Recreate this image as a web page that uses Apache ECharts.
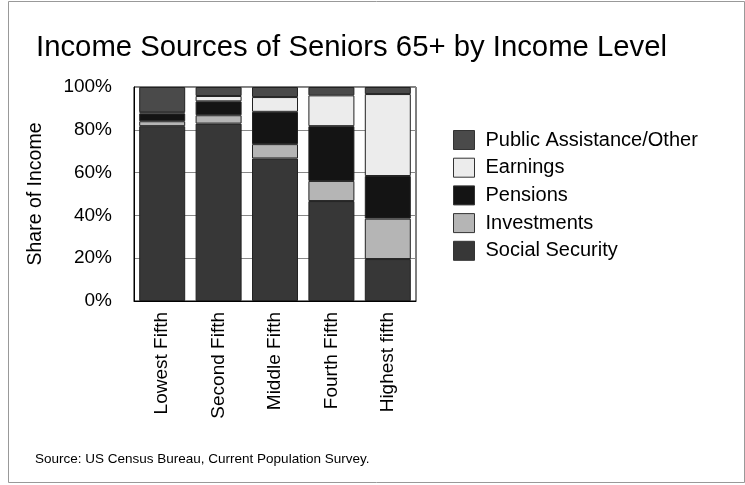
<!DOCTYPE html>
<html>
<head>
<meta charset="utf-8">
<script src="https://cdn.jsdelivr.net/npm/echarts@6/dist/echarts.min.js"></script>
<style>
  html, body { margin: 0; padding: 0; background: #fff; }
  #chart { width: 745px; height: 485px; }
</style>
</head>
<body>
<div id="chart"></div>
<script>
// Income quintiles shown along the x axis
const categories = ['Lowest Fifth', 'Second Fifth', 'Middle Fifth', 'Fourth Fifth', 'Highest fifth'];

// Share of income (%) by source for each quintile
const socialSecurity = [81.7, 82.9, 66.6, 46.7, 19.6];
const investments    = [2.3, 3.9, 6.7, 9.4, 18.9];
const pensions       = [3.6, 6.5, 15.1, 25.6, 19.9];
const earnings       = [0.6, 2.5, 6.9, 14.4, 38.3];
const publicOther    = [11.8, 4.2, 4.7, 3.9, 3.3];

// y-axis tick labels
const yTicks = ['0%', '20%', '40%', '60%', '80%', '100%'];

const FONT = 'Liberation Sans, Arial, sans-serif';

const seriesDefs = [
  { name: 'Social Security', data: socialSecurity, color: '#373737' },
  { name: 'Investments', data: investments, color: '#b5b5b5' },
  { name: 'Pensions', data: pensions, color: '#141414' },
  { name: 'Earnings', data: earnings, color: '#ececec' },
  { name: 'Public Assistance/Other', data: publicOther, color: '#4a4a4a' }
];

const chart = echarts.init(document.getElementById('chart'), null, { renderer: 'canvas' });

chart.setOption({
  animation: false,
  backgroundColor: '#fff',
  textStyle: { fontFamily: FONT },
  title: {
    text: 'Income Sources of Seniors 65+ by Income Level',
    left: 31,
    top: 28,
    textStyle: { fontFamily: FONT, fontSize: 29.3, fontWeight: 'normal', color: '#000' }
  },
  graphic: [
    {
      type: 'rect',
      shape: { x: 8.5, y: 1.5, width: 736, height: 481 },
      style: { fill: 'none', stroke: '#999', lineWidth: 1 },
      silent: true
    },
    {
      type: 'text',
      x: 35, y: 452,
      style: {
        text: 'Source: US Census Bureau, Current Population Survey.',
        font: '13.5px ' + FONT,
        fill: '#000'
      }
    }
  ],
  legend: {
    orient: 'vertical',
    left: 448,
    top: 125,
    itemWidth: 21,
    itemHeight: 19,
    itemGap: 7.7,
    icon: 'rect',
    data: ['Public Assistance/Other', 'Earnings', 'Pensions', 'Investments', 'Social Security'],
    textStyle: { fontFamily: FONT, fontSize: 20, color: '#000', padding: [0, 0, 0, 6] },
    itemStyle: { borderColor: '#333', borderWidth: 1 }
  },
  grid: {
    left: 134,
    top: 87,
    width: 282,
    height: 214,
    show: true,
    borderColor: '#000',
    borderWidth: 1,
    containLabel: false
  },
  xAxis: {
    type: 'category',
    data: categories,
    axisLine: { show: true, lineStyle: { color: '#000', width: 1 } },
    axisTick: { show: false },
    axisLabel: {
      rotate: 90,
      margin: 11,
      fontFamily: FONT,
      fontSize: 19,
      color: '#000'
    }
  },
  yAxis: {
    type: 'value',
    min: 0,
    max: 100,
    interval: 20,
    name: 'Share of Income',
    nameLocation: 'middle',
    nameGap: 88,
    nameRotate: 90,
    nameTextStyle: { fontFamily: FONT, fontSize: 19.5, color: '#000' },
    axisLine: { show: true, lineStyle: { color: '#000', width: 1 } },
    axisTick: { show: false },
    axisLabel: {
      margin: 22,
      padding: [4, 0, 0, 0],
      fontFamily: FONT,
      fontSize: 19,
      color: '#000',
      formatter: function (v) { return yTicks[Math.round(v / 20)]; }
    },
    splitLine: { show: true, lineStyle: { color: '#888', width: 1 } }
  },
  series: seriesDefs.map(function (s) {
    return {
      name: s.name,
      type: 'bar',
      stack: 'total',
      barWidth: 46,
      data: s.data,
      itemStyle: { color: s.color, borderColor: '#222', borderWidth: 1 }
    };
  })
});
</script>
</body>
</html>
